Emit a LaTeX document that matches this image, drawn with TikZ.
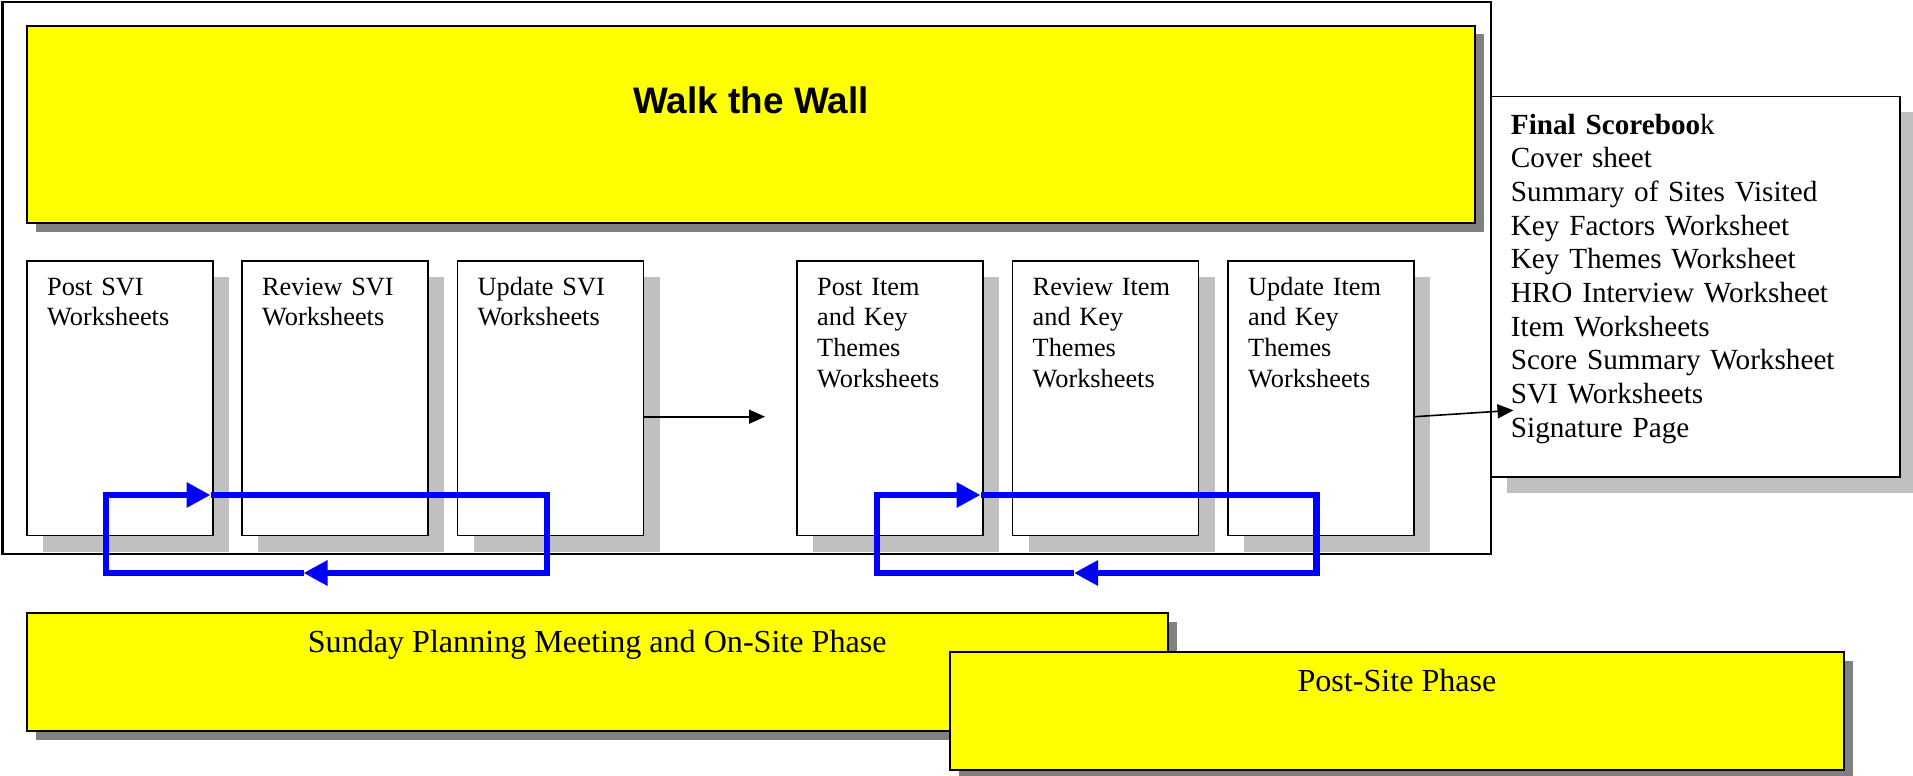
\documentclass[tikz,border=0pt]{standalone}
\usepackage{fontspec}
\setmainfont{Liberation Serif}
\newfontfamily\titlefont{Liberation Sans}
\usetikzlibrary{arrows.meta,shadows}
\definecolor{wyellow}{RGB}{255,255,0}
\definecolor{shdark}{RGB}{128,128,128}
\definecolor{shlight}{RGB}{192,192,192}
\definecolor{loopblue}{RGB}{0,0,255}
\tikzset{
  framebox/.style={draw=black,line width=2bp,fill=white,inner sep=0pt,anchor=north west},
  yelbox/.style={draw=black,line width=2bp,fill=wyellow,inner sep=0pt,anchor=north west,
    drop shadow={shadow xshift=9bp,shadow yshift=-9bp,fill=shdark,opacity=1}},
  stepbox/.style={draw=black,line width=1.5bp,fill=white,inner sep=0pt,anchor=north west,
    minimum width=186bp,minimum height=274.7bp,
    drop shadow={shadow xshift=16.5bp,shadow yshift=-16.5bp,fill=shlight,opacity=1}},
  listbox/.style={draw=black,line width=1.5bp,fill=white,inner sep=0pt,anchor=north west,
    drop shadow={shadow xshift=16bp,shadow yshift=-16bp,fill=shlight,opacity=1}},
  steplbl/.style={anchor=base west,inner sep=0pt,text width=165bp,align=left,
    font=\fontsize{26.3bp}{30.7bp}\selectfont},
  listlbl/.style={anchor=base west,inner sep=0pt,text width=380bp,align=left,
    font=\fontsize{29.2bp}{33.7bp}\selectfont},
  phaselbl/.style={anchor=base,inner sep=0pt,font=\fontsize{32.1bp}{36bp}\selectfont},
  titlelbl/.style={anchor=base,inner sep=0pt,font=\titlefont\bfseries\fontsize{36.9bp}{40bp}\selectfont},
  loop/.style={draw=loopblue,line width=6.7bp,line join=miter,
    -{Triangle[length=24bp,width=24bp]}},
  flow/.style={draw=black,line width=1.6bp,-{Triangle[length=16bp,width=14bp]}}
}
\begin{document}
\begin{tikzpicture}[x=1bp,y=-1bp]
\useasboundingbox (0,0) rectangle (1913,776);
% outer frame
\node[framebox,minimum width=1488bp,minimum height=551.7bp] (frame) at (1.5,1) {};
% title box
\node[yelbox,minimum width=1448bp,minimum height=196.5bp,
  drop shadow={shadow xshift=8.5bp,shadow yshift=-8.5bp,fill=shdark,opacity=1}] (wall) at (26,25) {};
\node[titlelbl] (walltxt) at ([yshift=-88.3bp]wall.north) {Walk the Wall};
% step boxes
\node[stepbox] (b1) at (26,260) {};
\node[stepbox] (b2) at (241,260) {};
\node[stepbox] (b3) at (456.5,260) {};
\node[stepbox] (b4) at (796,260) {};
\node[stepbox] (b5) at (1011.5,260) {};
\node[stepbox] (b6) at (1227,260) {};
\node[steplbl] (t1) at ([xshift=21bp,yshift=-35bp]b1.north west) {Post SVI\\Worksheets};
\node[steplbl] (t2) at ([xshift=21bp,yshift=-35bp]b2.north west) {Review SVI\\Worksheets};
\node[steplbl] (t3) at ([xshift=21bp,yshift=-35bp]b3.north west) {Update SVI\\Worksheets};
\node[steplbl] (t4) at ([xshift=21bp,yshift=-35bp]b4.north west) {Post Item\\and Key\\Themes\\Worksheets};
\node[steplbl] (t5) at ([xshift=21bp,yshift=-35bp]b5.north west) {Review Item\\and Key\\Themes\\Worksheets};
\node[steplbl] (t6) at ([xshift=21bp,yshift=-35bp]b6.north west) {Update Item\\and Key\\Themes\\Worksheets};
% final scorebook
\node[listbox,minimum width=409bp,minimum height=380.3bp] (book) at (1490,95.7) {};
\node[listlbl] (booktxt) at ([xshift=20.7bp,yshift=-38.3bp]book.north west)
  {{\bfseries Final Scoreboo}k\\Cover sheet\\Summary of Sites Visited\\Key Factors Worksheet\\Key Themes Worksheet\\HRO Interview Worksheet\\Item Worksheets\\Score Summary Worksheet\\SVI Worksheets\\Signature Page};
% phase boxes
\node[yelbox,minimum width=1141bp,minimum height=118.3bp] (onsite) at (25.7,611.7) {};
\node[phaselbl] (onsitetxt) at ([yshift=-41bp]onsite.north) {Sunday Planning Meeting and On-Site Phase};
\node[yelbox,minimum width=894bp,minimum height=118.3bp] (postsite) at (949,650.7) {};
\node[phaselbl] (postsitetxt) at ([yshift=-40.3bp]postsite.north) {Post-Site Phase};
% loop coordinates (left)
\coordinate (La) at (106,495);
\coordinate (Ltip) at (210.5,495);
\coordinate (Lr) at (547,495);
\coordinate (Lrb) at (547,573);
\coordinate (Lb) at (303.5,573);
\coordinate (Llb) at (106,573);
\draw[loop] (Ltip) -- (Lr) -- (Lrb) -- (Lb);
\draw[loop] (Lb) -- (Llb) -- (La) -- (Ltip);
% loop coordinates (right)
\coordinate (Ra) at (877,495);
\coordinate (Rtip) at (980.5,495);
\coordinate (Rr) at (1316.7,495);
\coordinate (Rrb) at (1316.7,573);
\coordinate (Rb) at (1074,573);
\coordinate (Rlb) at (877,573);
\draw[loop] (Rtip) -- (Rr) -- (Rrb) -- (Rb);
\draw[loop] (Rb) -- (Rlb) -- (Ra) -- (Rtip);
% flow arrows
\coordinate (a1end) at (765,416.7);
\draw[flow] (b3.east |- a1end) -- (a1end);
\coordinate (a2end) at (1513.5,410.3);
\draw[flow] (b6.east |- a1end) -- (a2end);
\end{tikzpicture}
\end{document}
